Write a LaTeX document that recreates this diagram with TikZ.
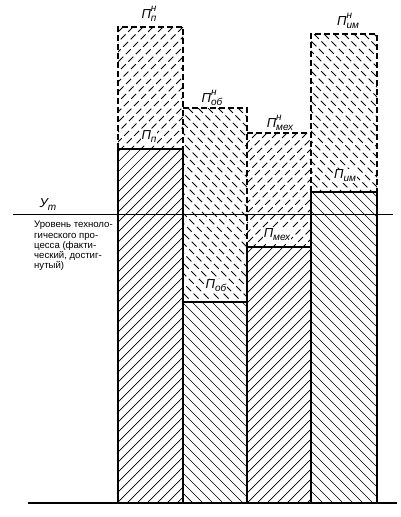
\documentclass[tikz,border=0pt]{standalone}
\usepackage{fontspec}
\setmainfont{Liberation Sans}
\newcommand{\hatchNE}[5]{%
  \begin{scope}
    \clip (#1,#2) rectangle (#3,#4);
    \pgfmathsetmacro{\hatchS}{floor((#1+#2)/10)*10}
    \pgfmathtruncatemacro{\hatchN}{((#3+#4)-\hatchS)/10+1}
    \foreach \i in {0,...,\hatchN}{
      \pgfmathsetmacro{\hatchC}{\hatchS+\i*10}
      \draw[#5] ({\hatchC-#2},#2) -- ({\hatchC-#4},#4);
    }
  \end{scope}}
\newcommand{\hatchNW}[5]{%
  \begin{scope}
    \clip (#1,#2) rectangle (#3,#4);
    \pgfmathsetmacro{\hatchS}{floor((#1-#4)/10)*10}
    \pgfmathtruncatemacro{\hatchN}{((#3-#2)-\hatchS)/10+1}
    \foreach \i in {0,...,\hatchN}{
      \pgfmathsetmacro{\hatchC}{\hatchS+\i*10}
      \draw[#5] ({\hatchC+#2},#2) -- ({\hatchC+#4},#4);
    }
  \end{scope}}
\newcommand{\smallidx}{\fontsize{10}{10}\selectfont\itshape}
\newcommand{\lsup}[3]{#1\rlap{\raisebox{7pt}{\smallidx #2}}\raisebox{-3pt}{\smallidx #3}}
\newcommand{\lsub}[2]{#1\raisebox{-3pt}{\smallidx #2}}
\begin{document}
\begin{tikzpicture}[x=1pt,y=-1pt,
  outs/.style={line width=1.5pt},
  outd/.style={line width=1.2pt,dash pattern=on 6pt off 3pt},
  hsol/.style={line width=0.7pt},
  hdash/.style={line width=0.8pt,dash pattern=on 7pt off 3.5pt},
  lbl/.style={font=\fontsize{13}{14}\selectfont\itshape,inner sep=1pt},
  lblw/.style={lbl,fill=white},
  note/.style={font=\fontsize{9.6}{10.2}\selectfont,align=left,inner sep=0pt,anchor=north west}]
\useasboundingbox (0,0) rectangle (400,517);
% hatching
\hatchNE{118}{27}{183}{149}{hdash}
\hatchNE{118}{149}{183}{503}{hsol}
\hatchNW{183}{108}{247}{302}{hdash}
\hatchNW{183}{302}{247}{503}{hsol}
\hatchNE{247}{133}{311}{247}{hdash}
\hatchNE{247}{247}{311}{503}{hsol}
\hatchNW{311}{34}{377}{192}{hdash}
\hatchNW{311}{192}{377}{503}{hsol}
% labels inside bars (clear the hatching behind them)
\node[lblw] (pn) at (149,137) {\lsub{П}{п}};
\node[lblw] (pob) at (216,286) {\lsub{П}{об}};
\node[lblw] (pmex) at (277,235) {\lsub{П}{мех}};
\node[lblw] (pim) at (345,176) {\lsub{П}{им}};
% solid outlines
\draw[outs] (118,503) -- (118,149) -- (183,149);
\draw[outs] (183,149) -- (183,503);
\draw[outs] (183,302) -- (247,302);
\draw[outs] (247,503) -- (247,247) -- (311,247);
\draw[outs] (311,503) -- (311,192) -- (377,192) -- (377,503);
\draw[line width=1.2pt] (28,503) -- (397,503);
% dashed (normative) outlines
\draw[outd] (118,149) -- (118,27) -- (183,27) -- (183,149);
\draw[outd] (183,108) -- (247,108) -- (247,247);
\draw[outd] (247,133) -- (311,133);
\draw[outd] (311,192) -- (311,34) -- (377,34) -- (377,192);
% technological level line
\draw[line width=0.9pt] (13,214) -- (393,214);
% normative labels
\node[lbl] (pnn) at (149,14) {\lsup{П}{н}{п}};
\node[lbl] (pobn) at (212,98) {\lsup{П}{н}{об}};
\node[lbl] (pmexn) at (280,123) {\lsup{П}{н}{мех}};
\node[lbl] (pimn) at (348,21) {\lsup{П}{н}{им}};
\node[lbl] (ut) at (48,205) {\lsub{У}{т}};
\node[note] (lvl) at (34,221) {Уровень техноло-\\гического про-\\цесса (факти-\\ческий, достиг-\\нутый)};
\end{tikzpicture}
\end{document}
